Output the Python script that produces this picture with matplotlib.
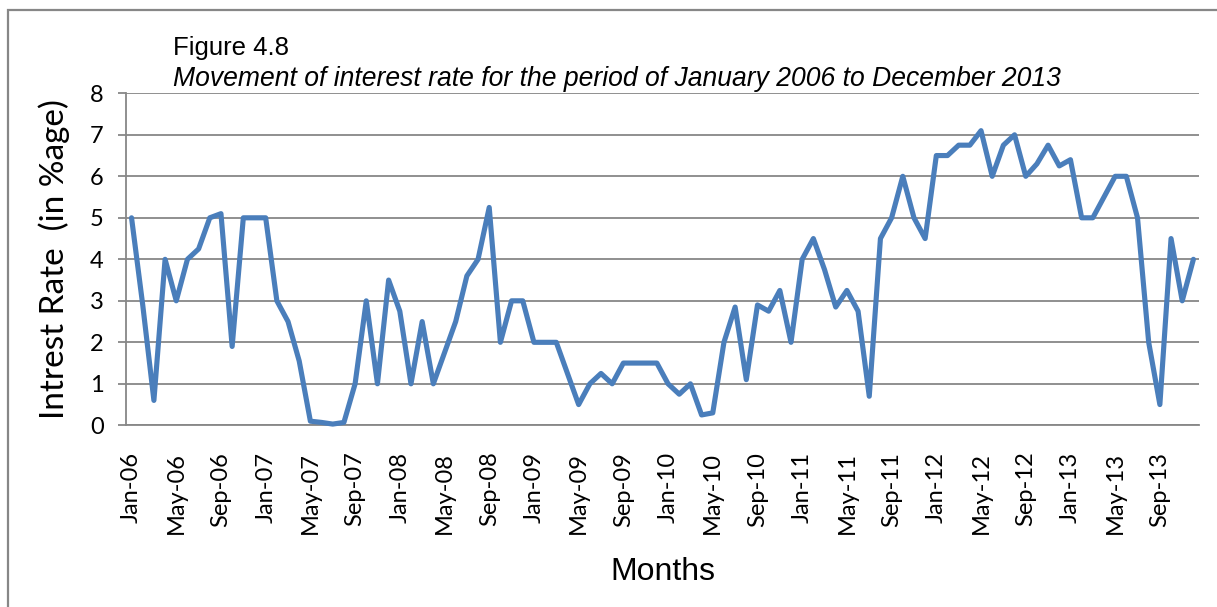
import matplotlib
matplotlib.use("Agg")
import matplotlib.pyplot as plt
from matplotlib.patches import Rectangle
import numpy as np
import pandas as pd

# monthly interest rate (%), Jan 2006 .. Dec 2013
months = pd.date_range("2006-01-01", periods=96, freq="MS").strftime("%b-%y").tolist()
rates = [5.0, 2.9, 0.6, 4.0, 3.0, 4.0, 4.25, 5.0, 5.1, 1.9, 5.0, 5.0,      # 2006
         5.0, 3.0, 2.5, 1.55, 0.1, 0.07, 0.03, 0.07, 1.0, 3.0, 1.0, 3.5,   # 2007
         2.75, 1.0, 2.5, 1.0, 1.75, 2.5, 3.6, 4.0, 5.25, 2.0, 3.0, 3.0,    # 2008
         2.0, 2.0, 2.0, 1.25, 0.5, 1.0, 1.25, 1.0, 1.5, 1.5, 1.5, 1.5,     # 2009
         1.0, 0.75, 1.0, 0.25, 0.3, 2.0, 2.85, 1.1, 2.9, 2.75, 3.25, 2.0,  # 2010
         4.0, 4.5, 3.75, 2.85, 3.25, 2.75, 0.7, 4.5, 5.0, 6.0, 5.0, 4.5,   # 2011
         6.5, 6.5, 6.75, 6.75, 7.1, 6.0, 6.75, 7.0, 6.0, 6.3, 6.75, 6.25,  # 2012
         6.4, 5.0, 5.0, 5.5, 6.0, 6.0, 5.0, 2.0, 0.5, 4.5, 3.0, 4.0]       # 2013
yticks = [0, 1, 2, 3, 4, 5, 6, 7, 8]

grey = "#878787"
blue = "#4a7ebb"

fig = plt.figure(figsize=(12.17, 6.07), dpi=100)
ax = fig.add_axes([0.1035, 0.2993, 0.9852 - 0.1035, 0.8463 - 0.2993])

# outer frame around the chart
fig.patches.append(Rectangle((8 / 1217, -0.1), 1.2, 1.1 - 10 / 607, transform=fig.transFigure,
                             fill=False, edgecolor=grey, linewidth=1.6))

x = np.arange(len(rates))
ax.plot(x, rates, color=blue, linewidth=3.7, solid_joinstyle="round", solid_capstyle="round",
        zorder=3, clip_on=False)

ax.set_xlim(-0.5, len(rates) - 0.5)
ax.set_ylim(0, 8)
ax.set_yticks(yticks)
ax.yaxis.grid(True, color=grey, linewidth=1.3)
ax.set_axisbelow(True)

for s in ["top", "right"]:
    ax.spines[s].set_visible(False)
for s in ["left", "bottom"]:
    ax.spines[s].set_color(grey)
    ax.spines[s].set_linewidth(1.3)

ax.set_xticks(x[::4])
ax.set_xticklabels(months[::4], rotation=90, va="top", ha="center",
                   family="Lato", fontsize=17)
ax.tick_params(axis="x", length=0, pad=19)
ax.tick_params(axis="y", length=6, width=1.3, color=grey, pad=10, labelsize=17)
for lbl in ax.get_yticklabels():
    lbl.set_family("Lato")

ax.set_ylabel("Intrest Rate  (in %age)", family="Lato", fontsize=24, labelpad=14)
fig.text(663 / 1217, 1 - 572 / 607, "Months", family="Liberation Sans", fontsize=23,
         ha="center", va="center")

fig.text(173 / 1217, 1 - 55 / 607, "Figure 4.8", family="Liberation Sans", fontsize=18.5,
         va="baseline")
fig.text(173 / 1217, 1 - 86 / 607,
         "Movement of interest rate for the period of January 2006 to December 2013",
         family="Liberation Sans", style="italic", fontsize=19.1, va="baseline")

fig.savefig("out.png", dpi=100)
